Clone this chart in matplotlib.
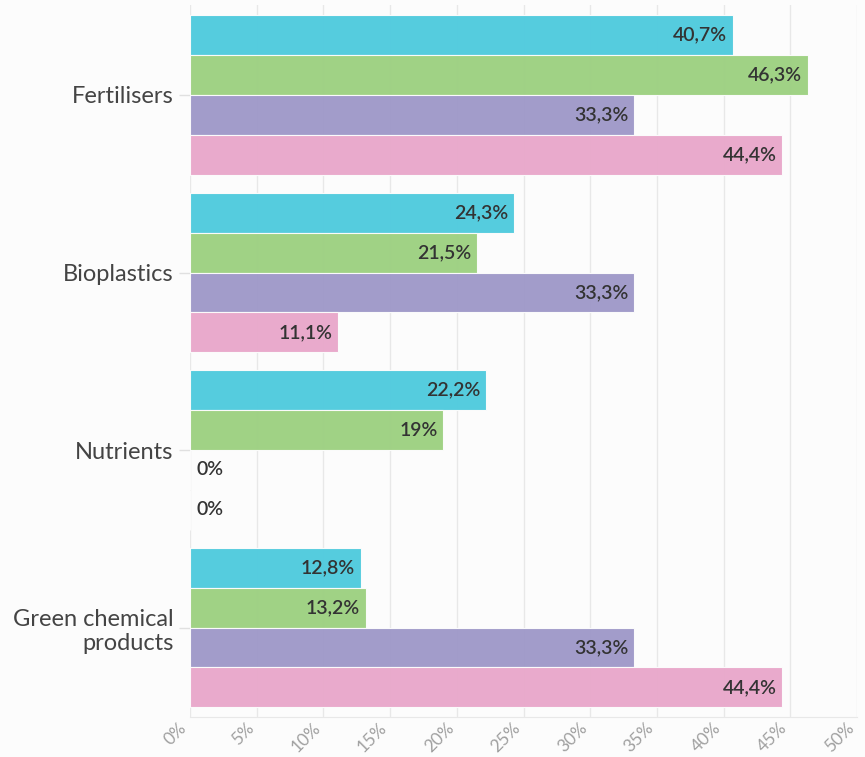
import matplotlib
matplotlib.use("Agg")
import matplotlib.pyplot as plt
import matplotlib.transforms as mtrans
import numpy as np

categories = ["Fertilisers", "Bioplastics", "Nutrients", "Green chemical\nproducts"]
series_a = [40.7, 24.3, 22.2, 12.8]
series_b = [46.3, 21.5, 19.0, 13.2]
series_c = [33.3, 33.3, 0.0, 33.3]
series_d = [44.4, 11.1, 0.0, 44.4]
xticks = [0, 5, 10, 15, 20, 25, 30, 35, 40, 45, 50]
colors = ["#52cbde", "#9ed183", "#a09ac9", "#e9a9cb"]

plt.rcParams['font.family'] = ['Lato', 'DejaVu Sans']

fig = plt.figure(figsize=(8.65, 7.57), dpi=100, facecolor="#fcfcfc")
ax = fig.add_axes([190/865, 1-717/757, 667/865, 712/757], facecolor="#fcfcfc")

series = [series_a, series_b, series_c, series_d]
h = 0.225
y = np.arange(len(categories))
for i, (vals, c) in enumerate(zip(series, colors)):
    pos = y - 0.3375 + i * h
    ax.barh(pos, vals, height=h, color=c, edgecolor="#fcfcfc", linewidth=0.8, zorder=3, alpha=0.98)
    for p, v in zip(pos, vals):
        if v == int(v):
            s = f"{int(v)}%"
        else:
            s = f"{v:.1f}".replace(".", ",") + "%"
        if v > 3:
            ax.text(v - 0.45, p, s, ha="right", va="center", fontsize=14, fontweight="semibold",
                    color="#333333", zorder=4)
        else:
            ax.text(0.45, p, s, ha="left", va="center", fontsize=14, fontweight="semibold",
                    color="#333333", zorder=4)

ax.set_xlim(0, 50)
ax.set_ylim(3.504, -0.507)
ax.set_xticks(xticks)
ax.set_xticklabels([f"{t}%" for t in xticks], rotation=45, ha="right", va="top",
                   fontsize=12.5, color="#a0a0a0")
off = mtrans.ScaledTranslation(16/100, 0, fig.dpi_scale_trans)
for lab in ax.get_xticklabels():
    lab.set_transform(lab.get_transform() + off)
ax.set_yticks(y)
ax.set_yticklabels(categories, fontsize=17, color="#444444", linespacing=1.2)
ax.tick_params(axis="y", length=8, color="#e0e0e0", width=1, pad=4)
ax.tick_params(axis="x", length=0, pad=2)
ax.grid(axis="x", color="#e8e8e8", linewidth=1, zorder=0)
for s in ["top", "right", "left"]:
    ax.spines[s].set_visible(False)
ax.spines["bottom"].set_color("#e8e8e8")

fig.savefig("out.png", dpi=100, facecolor=fig.get_facecolor())
